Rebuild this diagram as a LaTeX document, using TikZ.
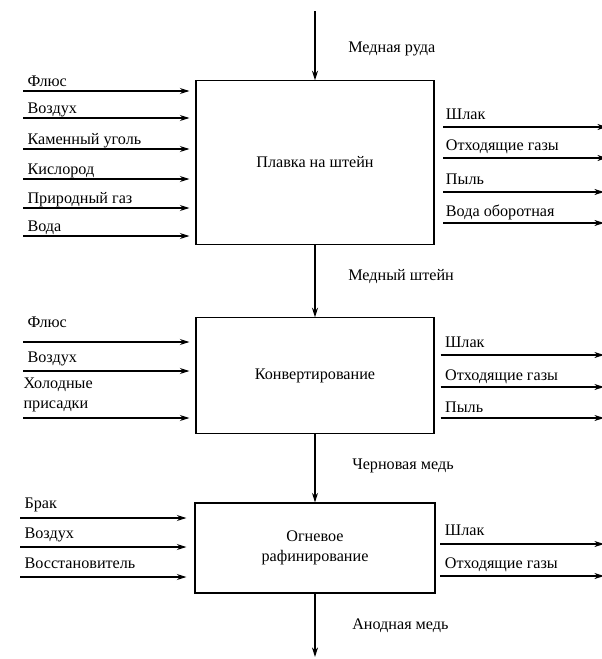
\documentclass[tikz,border=0pt]{standalone}
\usepackage{fontspec}
\setmainfont{Liberation Serif}
\newfontfamily\diagfont{Liberation Serif}
\usetikzlibrary{arrows.meta,positioning}

\tikzset{
  proc/.style={draw,line width=0.8pt,inner sep=0pt,align=center},
  flow/.style={-{Stealth[length=2.4mm,width=1.5mm]},line width=0.8pt},
  lbl/.style={anchor=base west,inner sep=0pt,xshift=0.1cm,yshift=0.12cm}
}

\begin{document}
\begin{tikzpicture}[x=0.025cm,y=-0.025cm,font=\diagfont\fontsize{11.5}{14}\selectfont]
    \useasboundingbox (0,0) rectangle (601,659);

    % Process boxes
    \node[proc,minimum width=5.95cm,minimum height=4.08cm] (b1) at (315,162.5) {Плавка на штейн};
    \node[proc,minimum width=5.95cm,minimum height=2.88cm] (b2) at (315,375.5) {Конвертирование};
    \node[proc,minimum width=6cm,minimum height=2.25cm] (b3) at (315,548) {Огневое\\рафинирование};

    % Main flow
    \coordinate (top) at (315,11);
    \coordinate (bot) at (315,657);
    \draw[flow] (top) -- node[midway,right=0.7cm,yshift=-0.08cm] (m1) {Медная руда} (b1.north);
    \draw[flow] (b1.south) -- node[midway,right=0.7cm,yshift=0.1cm] (m2) {Медный штейн} (b2.north);
    \draw[flow] (b2.south) -- node[midway,right=0.8cm,yshift=0.06cm] (m3) {Черновая медь} (b3.north);
    \draw[flow] (b3.south) -- node[midway,right=0.8cm] (m4) {Анодная медь} (bot);

    % Inputs of the smelting
    \coordinate (a1) at (23,91);
    \coordinate (a2) at (23,118);
    \coordinate (a3) at (23,149);
    \coordinate (a4) at (23,179);
    \coordinate (a5) at (23,208);
    \coordinate (a6) at (23,236);
    \draw[flow] (a1) node[lbl] (la1) {Флюс} -- ([xshift=-0.15cm]b1.west |- a1);
    \draw[flow] (a2) node[lbl] (la2) {Воздух} -- ([xshift=-0.15cm]b1.west |- a2);
    \draw[flow] (a3) node[lbl] (la3) {Каменный уголь} -- ([xshift=-0.15cm]b1.west |- a3);
    \draw[flow] (a4) node[lbl] (la4) {Кислород} -- ([xshift=-0.15cm]b1.west |- a4);
    \draw[flow] (a5) node[lbl] (la5) {Природный газ} -- ([xshift=-0.15cm]b1.west |- a5);
    \draw[flow] (a6) node[lbl] (la6) {Вода} -- ([xshift=-0.15cm]b1.west |- a6);

    % Outputs of the smelting
    \coordinate (p1) at (607,127);
    \coordinate (p2) at (607,158);
    \coordinate (p3) at (604,192);
    \coordinate (p4) at (604,223);
    \draw[flow] ([xshift=0.22cm]b1.east |- p1) node[lbl,xshift=-0.05cm,yshift=0.06cm] (lp1) {Шлак} -- (p1);
    \draw[flow] ([xshift=0.22cm]b1.east |- p2) node[lbl,xshift=-0.05cm,yshift=0.06cm] (lp2) {Отходящие газы} -- (p2);
    \draw[flow] ([xshift=0.22cm]b1.east |- p3) node[lbl,xshift=-0.05cm,yshift=0.06cm] (lp3) {Пыль} -- (p3);
    \draw[flow] ([xshift=0.22cm]b1.east |- p4) node[lbl,xshift=-0.05cm,yshift=0.05cm] (lp4) {Вода оборотная} -- (p4);

    % Inputs of the converting
    \coordinate (c1) at (23,342);
    \coordinate (c2) at (23,371);
    \coordinate (c3) at (23,418);
    \draw[flow] (c1) node[lbl,yshift=0.25cm] (lc1) {Флюс} -- ([xshift=-0.15cm]b2.west |- c1);
    \draw[flow] (c2) node[lbl,yshift=0.1cm] (lc2) {Воздух} -- ([xshift=-0.15cm]b2.west |- c2);
    \draw[flow] (c3) node[anchor=south west,inner sep=0pt,yshift=0.14cm,align=left] (lc3) {Холодные\\присадки} -- ([xshift=-0.15cm]b2.west |- c3);

    % Outputs of the converting
    \coordinate (q1) at (604,355);
    \coordinate (q2) at (604,387);
    \coordinate (q3) at (604,418);
    \draw[flow] ([xshift=0.15cm]b2.east |- q1) node[lbl,yshift=0.07cm] (lq1) {Шлак} -- (q1);
    \draw[flow] ([xshift=0.15cm]b2.east |- q2) node[lbl,yshift=0.05cm] (lq2) {Отходящие газы} -- (q2);
    \draw[flow] ([xshift=0.15cm]b2.east |- q3) node[lbl,yshift=0.03cm] (lq3) {Пыль} -- (q3);

    % Inputs of the fire refining
    \coordinate (r1) at (20,518);
    \coordinate (r2) at (20,547);
    \coordinate (r3) at (20,577);
    \draw[flow] (r1) node[lbl,yshift=0.12cm] (lr1) {Брак} -- ([xshift=-0.2cm]b3.west |- r1);
    \draw[flow] (r2) node[lbl,yshift=0.1cm] (lr2) {Воздух} -- ([xshift=-0.2cm]b3.west |- r2);
    \draw[flow] (r3) node[lbl,yshift=0.1cm] (lr3) {Восстановитель} -- ([xshift=-0.2cm]b3.west |- r3);

    % Outputs of the fire refining
    \coordinate (s1) at (604,544);
    \coordinate (s2) at (604,576);
    \draw[flow] ([xshift=0.12cm]b3.east |- s1) node[lbl,yshift=0.1cm] (ls1) {Шлак} -- (s1);
    \draw[flow] ([xshift=0.12cm]b3.east |- s2) node[lbl,yshift=0.07cm] (ls2) {Отходящие газы} -- (s2);
\end{tikzpicture}
\end{document}
